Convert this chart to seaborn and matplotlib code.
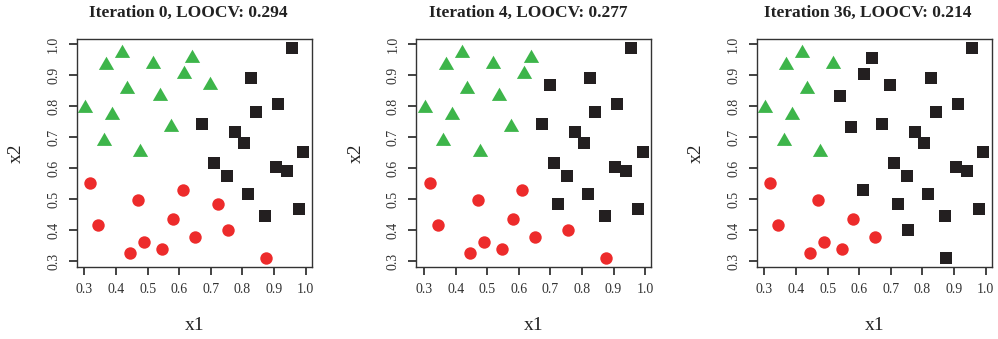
import numpy as np
import pandas as pd
import matplotlib
matplotlib.use("Agg")
import matplotlib.pyplot as plt
import seaborn as sns
from matplotlib.path import Path

# ---- data ----
x1 = [0.303, 0.369, 0.420, 0.435, 0.388, 0.361, 0.477, 0.517, 0.538, 0.575, 0.615, 0.639, 0.699,
      0.319, 0.343, 0.445, 0.470, 0.489, 0.547, 0.581, 0.611, 0.651, 0.724, 0.756, 0.876,
      0.956, 0.826, 0.912, 0.842, 0.672, 0.777, 0.806, 0.992, 0.711, 0.752, 0.906, 0.941, 0.818, 0.979, 0.872]
x2 = [0.795, 0.932, 0.973, 0.857, 0.773, 0.689, 0.652, 0.937, 0.833, 0.732, 0.903, 0.957, 0.868,
      0.551, 0.415, 0.325, 0.496, 0.360, 0.338, 0.435, 0.530, 0.377, 0.483, 0.399, 0.309,
      0.989, 0.892, 0.808, 0.780, 0.742, 0.718, 0.682, 0.653, 0.617, 0.576, 0.603, 0.592, 0.517, 0.468, 0.444]

# class labels: T = triangle (green), C = circle (red), S = square (black)
labels_iter0 = list("TTTTTTTTTTTTT") + list("CCCCCCCCCCCC") + list("SSSSSSSSSSSSSSS")
labels_iter4 = list("TTTTTTTTTTTTS") + list("CCCCCCCCCSCC") + list("SSSSSSSSSSSSSSS")
labels_iter36 = list("TTTTTTTTSSSSS") + list("CCCCCCCSCSSS") + list("SSSSSSSSSSSSSSS")

titles = ["Iteration 0, LOOCV: 0.294", "Iteration 4, LOOCV: 0.277", "Iteration 36, LOOCV: 0.214"]
label_sets = [labels_iter0, labels_iter4, labels_iter36]
xticks = [0.3, 0.4, 0.5, 0.6, 0.7, 0.8, 0.9, 1.0]
yticks = [0.3, 0.4, 0.5, 0.6, 0.7, 0.8, 0.9, 1.0]

# ---- style ----
sns.set_theme(style="white")
plt.rcParams['font.family'] = ['Liberation Serif', 'DejaVu Serif']

tri_path = Path([(0, 1.555), (1.347, -0.778), (-1.347, -0.778), (0, 1.555)],
                [Path.MOVETO, Path.LINETO, Path.LINETO, Path.CLOSEPOLY])
styles = {
    "T": dict(marker=tri_path, color="#3db54a", s=160),
    "C": dict(marker="o", color="#ed2b2b", s=80),
    "S": dict(marker="s", color="#231f20", s=82),
}

W, H = 998, 339
fig = plt.figure(figsize=(W / 100, H / 100), dpi=100)
lefts = [76.7, 416.3, 756.7]
ax_w, ax_top, ax_bot = 235.0, 39.3, 266.7
ax_h = ax_bot - ax_top

def ext(v):
    lo, hi = min(v), max(v)
    d = (hi - lo) * 0.04
    return lo - d, hi + d

for left, title, labs in zip(lefts, titles, label_sets):
    ax = fig.add_axes([left / W, (H - ax_bot) / H, ax_w / W, ax_h / H])
    df = pd.DataFrame({"x1": x1, "x2": x2, "cls": labs})
    for cls in ["T", "C", "S"]:
        sub = df[df["cls"] == cls]
        st = styles[cls]
        sns.scatterplot(data=sub, x="x1", y="x2", marker=st["marker"], color=st["color"],
                        s=st["s"], linewidth=0, ax=ax, legend=False)
    ax.set_xlim(*ext(x1))
    ax.set_ylim(*ext(x2))
    ax.set_xticks(xticks)
    ax.set_yticks(yticks)
    ax.set_xticklabels([f"{t:.1f}" for t in xticks])
    ax.set_yticklabels([f"{t:.1f}" for t in yticks], rotation=90, va="center")
    ax.tick_params(axis="both", direction="out", length=6, width=1.2, color="#222222",
                   labelsize=10, labelcolor="#333333", pad=6, bottom=True, left=True)
    for sp in ax.spines.values():
        sp.set_color("#333333")
        sp.set_linewidth(1.0)
    ax.set_xlabel("x1", fontsize=14, color="#222222")
    ax.set_ylabel("x2", fontsize=14, color="#222222")
    ax.xaxis.set_label_coords(0.5, -(326 - ax_bot) / ax_h)
    ax.xaxis.label.set_va("center")
    ax.yaxis.set_label_coords(-0.255, 0.5)
    ax.yaxis.label.set_va("center")
    ax.text(0.5 - 6 / ax_w, 1 + 26.6 / ax_h, title, transform=ax.transAxes,
            ha="center", va="center", fontsize=12.5, fontweight="bold", color="#222222")

fig.savefig("out.png", dpi=100)
